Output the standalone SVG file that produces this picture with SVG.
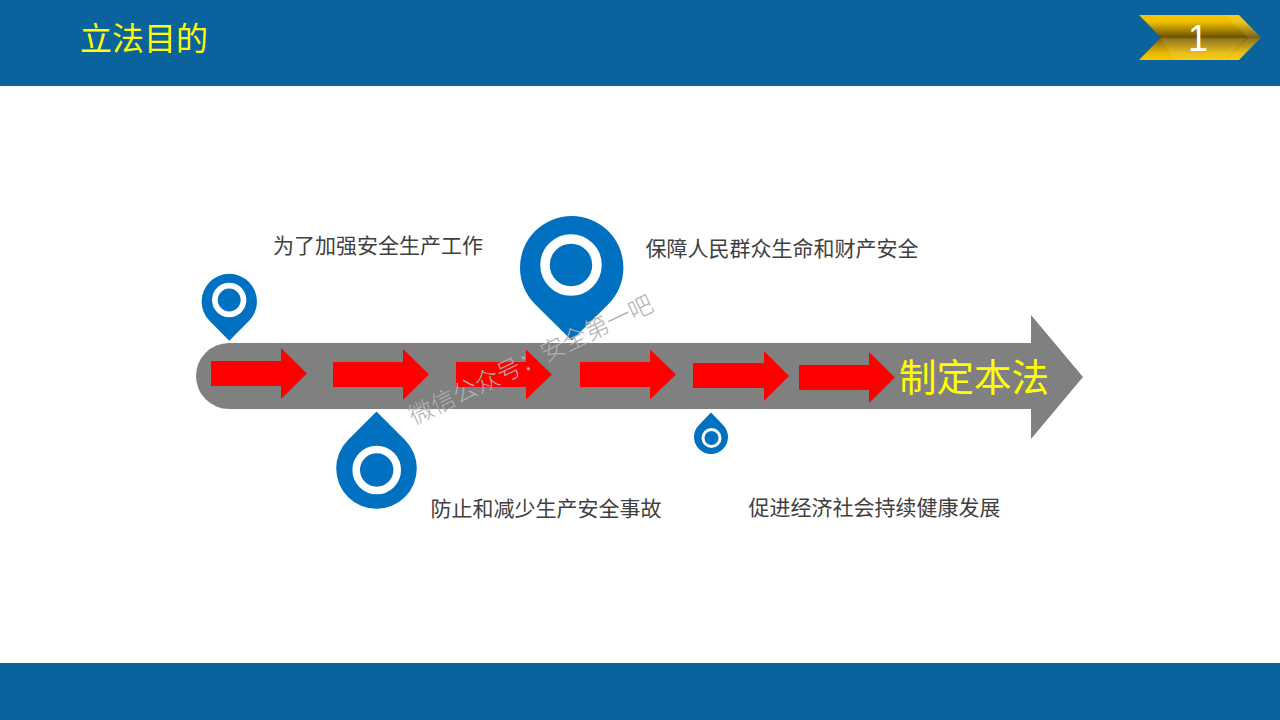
<svg xmlns="http://www.w3.org/2000/svg" width="1280" height="720" viewBox="0 0 1280 720">
<style>
.band{fill:#0a639d}
.pin{fill:#0070c0}
.ring{fill:none;stroke:#fff}
.red{fill:#f00}
.lbl{font-family:"Liberation Sans","Noto Sans CJK SC",sans-serif;font-size:21px;fill:#404040}
</style>
<defs>
<linearGradient id="gold" x1="0" y1="0" x2="0" y2="1">
<stop offset="0" stop-color="#f5c400"/>
<stop offset="0.15" stop-color="#f0c000"/>
<stop offset="0.48" stop-color="#6f5600"/>
<stop offset="0.55" stop-color="#8a6c08"/>
<stop offset="0.85" stop-color="#e8b800"/>
<stop offset="1" stop-color="#fac800"/>
</linearGradient>
</defs>
<rect width="1280" height="720" fill="#fff"/>
<rect class="band" width="1280" height="86"/>
<rect class="band" y="663" width="1280" height="57"/>
<text x="80" y="50" font-family="'Liberation Sans','Noto Sans CJK SC',sans-serif" font-size="32" fill="#ff0">立法目的</text>
<g id="badge">
<path d="M1139 15H1239L1261 37.500L1239 60H1139L1161 37.500Z" fill="url(#gold)"/>
<path d="M1226 15H1239L1261 37.500H1248Z M1248 38.500H1260L1239 60H1227Z" fill="#fff" opacity="0.1"/>
<path d="M1161 38.500H1246L1225 60H1175Z" fill="#fff" opacity="0.1"/>
<text x="1198" y="51" text-anchor="middle" font-family="'Liberation Sans',sans-serif" font-size="36" fill="#fff">1</text>
</g>
<g id="connectors">
<path id="timeline" d="M229 343H1031V315L1083 377L1031 439V409H229A33 33 0 0 1 229 343Z" fill="#808080"/>
<path class="red" d="M211 361H281V348L307 373.500L281 399V386H211Z"/>
<path class="red" d="M333 362H403V349L429 374.500L403 400V387H333Z"/>
<path class="red" d="M456 362H526V349.500L552 374.500L526 399.500V387H456Z"/>
<path class="red" d="M580 362H650V349.500L676 374.500L650 399.500V387H580Z"/>
<path class="red" d="M693 363H764V351L789 376L764 401V388H693Z"/>
<path class="red" d="M799 365H869V352L895 377.500L869 403V390H799Z"/>
</g>
<g id="pin1">
<path class="pin" d="M229.300 340.700L209.700 321.100A27.700 27.700 0 1 1 248.900 321.100Z"/>
<circle class="ring" cx="229.200" cy="300" r="14.300" stroke-width="5.700"/>
</g>
<g id="pin2">
<path class="pin" d="M376.500 411.500L405 440A40.300 40.300 0 1 1 348 440Z"/>
<circle class="ring" cx="376.700" cy="470" r="20.500" stroke-width="7.600"/>
</g>
<g id="pin3">
<path class="pin" d="M571.700 340.500L535.100 304.200A51.700 51.700 0 1 1 608.300 304.200Z"/>
<circle class="ring" cx="571" cy="265" r="26" stroke-width="9.500"/>
</g>
<g id="pin4">
<path class="pin" d="M711 412.500L723 425A17 17 0 1 1 699 425Z"/>
<circle class="ring" cx="711.500" cy="438" r="8.500" stroke-width="3"/>
</g>
<text id="t1" class="lbl" x="273" y="252.500">为了加强安全生产工作</text>
<text id="t2" class="lbl" x="645.500" y="256">保障人民群众生命和财产安全</text>
<text id="t3" class="lbl" x="430.500" y="515.500">防止和减少生产安全事故</text>
<text id="t4" class="lbl" x="748.500" y="514.500">促进经济社会持续健康发展</text>
<text id="t5" x="899" y="391" font-family="'Liberation Sans','Noto Sans CJK SC',sans-serif" font-size="37.500" fill="#ff0">制定本法</text>
<text id="wm" transform="translate(414 425) rotate(-25.500)" font-family="'Noto Sans CJK SC',sans-serif" font-weight="300" font-size="24.300" fill="#b0b0b0">微信公众号：安全第一吧</text>
</svg>
